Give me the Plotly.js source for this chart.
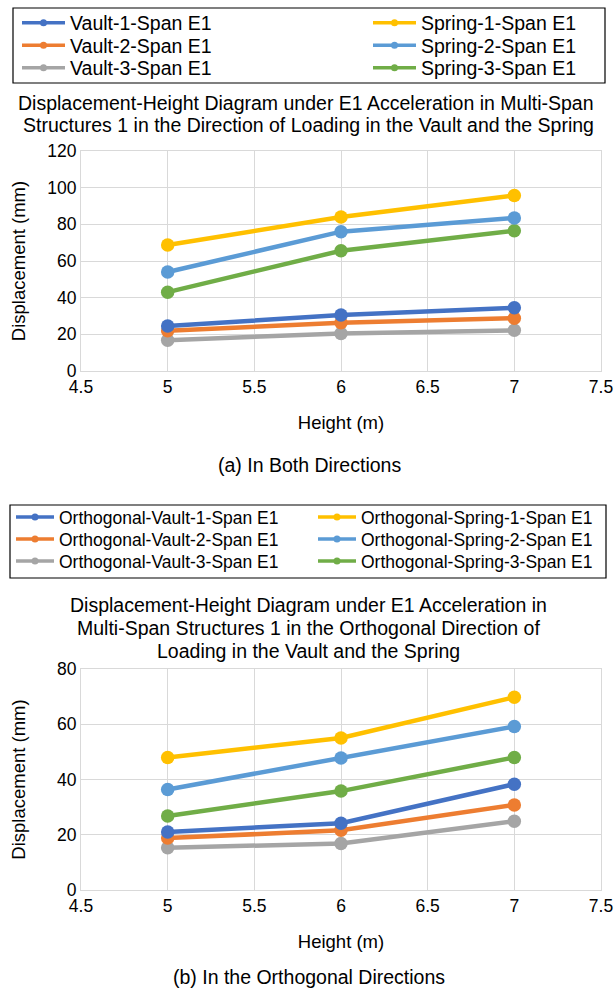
<!DOCTYPE html>
<html>
<head>
<meta charset="utf-8">
<script src="https://cdn.plot.ly/plotly-3.0.1.min.js"></script>
<style>html,body{margin:0;padding:0;background:#fff;}#chart{width:614px;height:992px;}</style>
</head>
<body>
<div id="chart"></div>
<script>
// ---- data ----
const heights = [5, 6, 7];

// (a) In both directions
const vault1 = [24.5, 30.5, 34.5];
const vault2 = [22.0, 26.3, 28.8];
const vault3 = [16.8, 20.5, 22.2];
const spring1 = [68.7, 84.0, 95.7];
const spring2 = [54.0, 76.0, 83.5];
const spring3 = [43.0, 65.6, 76.5];

// (b) In the orthogonal directions
const orthVault1 = [21.0, 24.2, 38.3];
const orthVault2 = [18.8, 21.6, 30.8];
const orthVault3 = [15.3, 16.8, 24.9];
const orthSpring1 = [48.0, 55.0, 69.8];
const orthSpring2 = [36.4, 47.8, 59.2];
const orthSpring3 = [26.8, 35.8, 48.0];

const namesA = ['Vault-1-Span E1', 'Vault-2-Span E1', 'Vault-3-Span E1', 'Spring-1-Span E1', 'Spring-2-Span E1', 'Spring-3-Span E1'];
const namesB = ['Orthogonal-Vault-1-Span E1', 'Orthogonal-Vault-2-Span E1', 'Orthogonal-Vault-3-Span E1', 'Orthogonal-Spring-1-Span E1', 'Orthogonal-Spring-2-Span E1', 'Orthogonal-Spring-3-Span E1'];

const titleA = ['Displacement-Height Diagram under E1 Acceleration in Multi-Span', 'Structures 1 in the Direction of Loading in the Vault and the Spring'];
const titleB = ['Displacement-Height Diagram under E1 Acceleration in', 'Multi-Span Structures 1 in the Orthogonal Direction of', 'Loading in the Vault and the Spring'];
const captionA = '(a) In Both Directions';
const captionB = '(b) In the Orthogonal Directions';
const xTitle = 'Height (m)';
const yTitle = 'Displacement (mm)';

// ---- styles ----
const colors = ['#4472C4', '#ED7D31', '#A5A5A5', '#FFC000', '#5B9BD5', '#70AD47'];
const seriesA = [vault1, vault2, vault3, spring1, spring2, spring3];
const seriesB = [orthVault1, orthVault2, orthVault3, orthSpring1, orthSpring2, orthSpring3];
const drawOrder = [2, 1, 0, 5, 4, 3];
const FONT = 'Liberation Sans, Arial, sans-serif';
const W = 614, H = 992;
const px = v => v / W;
const py = v => 1 - v / H;

// legend geometry (pixels): one single-item legend per entry
const legA = {rows: [23, 45.5, 68], cols: [17, 368], font: 19.5, itemwidth: 43, box: [13, 8, 605, 83]};
const legB = {rows: [517, 539, 561], cols: [11, 313], font: 17.5, itemwidth: 38, box: [10, 505, 606, 578]};

const traces = [];
const layoutLegends = {};
let legCount = 0;
function addSet(series, names, xa, ya, leg) {
  drawOrder.forEach(i => {
    traces.push({
      type: 'scatter', mode: 'lines+markers', x: heights, y: series[i], xaxis: xa, yaxis: ya,
      name: names[i], showlegend: false,
      line: {color: colors[i], width: 4.5},
      marker: {color: colors[i], size: 13.5},
      hoverinfo: 'x+y+name'
    });
  });
  names.forEach((n, i) => {
    legCount += 1;
    const key = legCount === 1 ? 'legend' : 'legend' + legCount;
    const col = Math.floor(i / 3), row = i % 3;
    layoutLegends[key] = {
      orientation: 'v', x: px(leg.cols[col]), y: py(leg.rows[row]), xanchor: 'left', yanchor: 'middle',
      borderwidth: 0, bgcolor: 'rgba(0,0,0,0)', itemwidth: leg.itemwidth,
      font: {family: FONT, size: leg.font, color: '#000'}
    };
    traces.push({
      type: 'scatter', mode: 'lines+markers', x: [null], y: [null], xaxis: xa, yaxis: ya,
      name: n, legend: key, showlegend: true,
      line: {color: colors[i], width: 3.5},
      marker: {color: colors[i], size: 7}
    });
  });
}
addSet(seriesA, namesA, 'x', 'y', legA);
addSet(seriesB, namesB, 'x2', 'y2', legB);

const gridC = '#d9d9d9';
function xAxis(dom, anchor) {
  return {
    domain: dom, anchor: anchor, range: [4.5, 7.5], dtick: 0.5, tick0: 4.5,
    showgrid: true, gridcolor: gridC, gridwidth: 1, zeroline: false,
    showline: true, linecolor: gridC, linewidth: 1, mirror: true, ticks: '',
    ticklabeloverflow: 'allow',
    tickfont: {family: FONT, size: 17.5, color: '#000'},
    title: {text: xTitle, font: {family: FONT, size: 18.5, color: '#000'}, standoff: 20}
  };
}
function yAxis(dom, anchor, maxv, standoff) {
  return {
    domain: dom, anchor: anchor, range: [0, maxv], dtick: 20, tick0: 0,
    showgrid: true, gridcolor: gridC, gridwidth: 1, zeroline: false,
    showline: true, linecolor: gridC, linewidth: 1, mirror: true, ticks: '',
    ticklabeloverflow: 'allow',
    tickfont: {family: FONT, size: 17.5, color: '#000'},
    title: {text: yTitle, font: {family: FONT, size: 18.5, color: '#000'}, standoff: standoff}
  };
}

const annotations = [];
function textLine(t, x, y, size) {
  annotations.push({text: t, xref: 'paper', yref: 'paper', x: px(x), y: py(y), xanchor: 'center', yanchor: 'middle', showarrow: false, font: {family: FONT, size: size, color: '#000'}});
}
textLine(titleA[0], 306, 103, 19.5);
textLine(titleA[1], 308, 125, 19.5);
textLine(captionA, 309, 465, 19.5);
textLine(titleB[0], 308, 605, 19.5);
textLine(titleB[1], 308, 628, 19.5);
textLine(titleB[2], 308, 651, 19.5);
textLine(captionB, 309, 977, 19.5);

function box(b) {
  return {type: 'rect', xref: 'paper', yref: 'paper', x0: px(b[0]), y0: py(b[1]), x1: px(b[2]), y1: py(b[3]),
          line: {color: '#000', width: 1.2}, fillcolor: 'rgba(0,0,0,0)', layer: 'above'};
}

const layout = Object.assign({
  width: W, height: H,
  margin: {l: 0, r: 0, t: 0, b: 0},
  paper_bgcolor: '#fff', plot_bgcolor: '#fff',
  font: {family: FONT, color: '#000'},
  xaxis: xAxis([px(81), px(601)], 'y'),
  yaxis: yAxis([py(371), py(151)], 'x', 120, 16),
  xaxis2: xAxis([px(81), px(601)], 'y2'),
  yaxis2: yAxis([py(890), py(669)], 'x2', 80, 26),
  annotations: annotations,
  shapes: [box(legA.box), box(legB.box)],
  showlegend: true
}, layoutLegends);

Plotly.newPlot('chart', traces, layout, {staticPlot: true, displayModeBar: false});
</script>
</body>
</html>
